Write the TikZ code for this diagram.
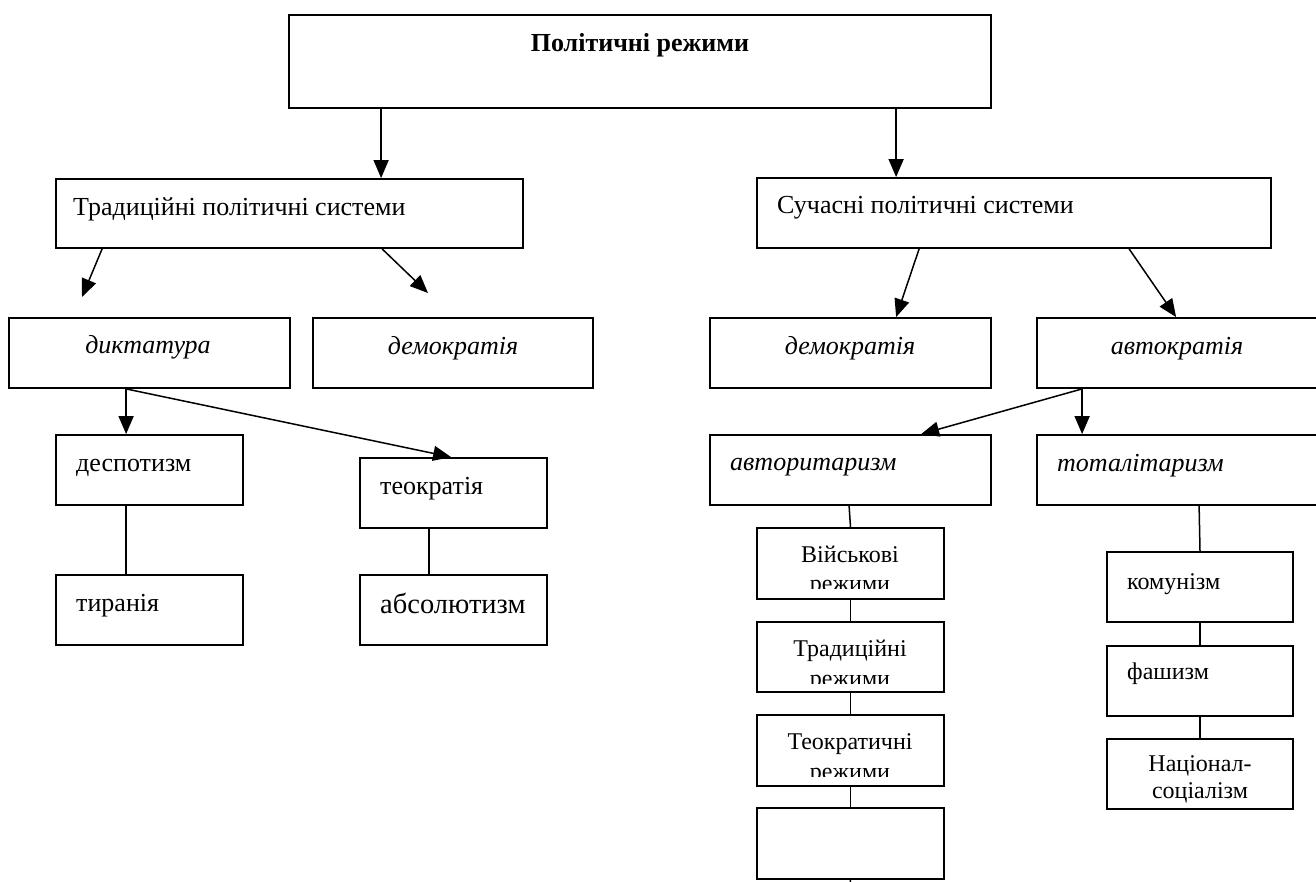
\documentclass[tikz,border=0pt]{standalone}
\usepackage{fontspec}
\setmainfont{Liberation Serif}
\usetikzlibrary{arrows.meta,fit}
\begin{document}
\begin{tikzpicture}[x=1pt,y=-1pt,
  box/.style={draw=black,line width=1.8pt,inner sep=0pt,fit={#1}},
  lnk/.style={line width=1.5pt},
  arr/.style={line width=1.5pt,-{Triangle[length=18pt,width=15pt]}},
  txt/.style={font=\fontsize{26}{30}\selectfont,inner sep=0pt},
  itx/.style={font=\fontsize{26}{30}\selectfont\itshape,inner sep=0pt},
  stx/.style={font=\fontsize{24}{28}\selectfont,inner sep=0pt}]
\useasboundingbox[fill=white] (0,0) rectangle (1316,881);

% boxes
\node[box={(289,15) (991,108)}] (top) {};
\node[box={(56,179) (523,248)}] (trad) {};
\node[box={(757,178) (1271,248)}] (modern) {};
\node[box={(9,318) (290,388)}] (dikt) {};
\node[box={(313,318) (593,388)}] (demL) {};
\node[box={(710,318) (991,388)}] (demR) {};
\node[box={(1037,318) (1318,388)}] (avtok) {};
\node[box={(56,435) (243,505)}] (desp) {};
\node[box={(56,575) (243,645)}] (tyr) {};
\node[box={(360,458) (547,528)}] (teok) {};
\node[box={(360,575) (547,645)}] (abs) {};
\node[box={(710,435) (991,505)}] (avtor) {};
\node[box={(1037,435) (1318,505)}] (total) {};
\node[box={(757,528) (944,599)}] (mil) {};
\node[box={(757,622) (944,692)}] (tradr) {};
\node[box={(757,715) (944,786)}] (teor) {};
\node[box={(757,808) (944,879)}] (empty) {};
\node[box={(1107,552) (1293,622)}] (komm) {};
\node[box={(1107,646) (1293,716)}] (fash) {};
\node[box={(1107,739) (1293,809)}] (nats) {};
\coordinate (bottomend) at (850,884);

% texts
\node[txt,font=\fontsize{26}{30}\selectfont\bfseries,anchor=base] (ttop) at (640,51) {Політичні режими};
\node[txt,anchor=base west] (ttrad) at (73,215) {Традиційні політичні системи};
\node[txt,anchor=base west] (tmod) at (777,213) {Сучасні політичні системи};
\node[itx,anchor=base] (tdikt) at (148,353) {диктатура};
\node[itx,anchor=base] (tdemL) at (453,354) {демократія};
\node[itx,anchor=base] (tdemR) at (850,354) {демократія};
\node[itx,anchor=base] (tavtok) at (1177,354) {автократія};
\node[itx,anchor=base west] (tavtor) at (730,470) {авторитаризм};
\node[itx,anchor=base west] (ttotal) at (1057,471) {тоталітаризм};
\node[txt,anchor=base west] (tdesp) at (76,471) {деспотизм};
\node[txt,anchor=base west] (tteok) at (380,494) {теократія};
\node[txt,anchor=base west] (ttyr) at (76,611) {тиранія};
\node[txt,font=\fontsize{28.5}{32}\selectfont,anchor=base west] (tabs) at (380,613) {абсолютизм};
\node[stx,anchor=base west] (tkomm) at (1127,589) {комунізм};
\node[stx,anchor=base west] (tfash) at (1127,679) {фашизм};
\node[stx,anchor=base] (tnats1) at (1200,771) {Націонал-};
\node[stx,anchor=base] (tnats2) at (1200,798) {соціалізм};

\node[stx,anchor=base] (tmil1) at (850,562) {Військові};
\node[stx,anchor=base] (ttradr1) at (850,656) {Традиційні};
\node[stx,anchor=base] (tteor1) at (850,749) {Теократичні};
\begin{scope}
  \clip (757,563) rectangle (944,588);
  \node[stx,anchor=base] (tmil2) at (850,591) {режими};
\end{scope}
\begin{scope}
  \clip (757,657) rectangle (944,683);
  \node[stx,anchor=base] (ttradr2) at (850,686) {режими};
\end{scope}
\begin{scope}
  \clip (757,750) rectangle (944,776);
  \node[stx,anchor=base] (tteor2) at (850,779) {режими};
\end{scope}

% connectors
\draw[arr] ([xshift=93pt]top.south west) -- ([xshift=326pt]trad.north west);
\draw[arr] ([xshift=608pt]top.south west) -- ([xshift=140pt]modern.north west);
\draw[arr] ([xshift=47pt]trad.south west) -- (82,297);
\draw[arr] ([xshift=327pt]trad.south west) -- (428,293);
\draw[arr] ([xshift=163pt]modern.south west) -- ([xshift=187pt]demR.north west);
\draw[arr] ([xshift=373pt]modern.south west) -- ([xshift=140pt]avtok.north west);
\draw[arr] ([xshift=118pt]dikt.south west) -- ([xshift=71pt]desp.north west);
\draw[arr] ([xshift=118pt]dikt.south west) -- ([xshift=92pt]teok.north west);
\draw[arr] ([xshift=46pt]avtok.south west) -- ([xshift=46pt]total.north west);
\draw[arr] ([xshift=46pt]avtok.south west) -- ([xshift=212pt]avtor.north west);
\draw[lnk] ([xshift=71pt]desp.south west) -- ([xshift=71pt]tyr.north west);
\draw[lnk] ([xshift=70pt]teok.south west) -- ([xshift=70pt]abs.north west);
\draw[lnk] ([xshift=140pt]avtor.south west) -- (mil.north);
\draw[lnk] (mil.south) -- (tradr.north);
\draw[lnk] (tradr.south) -- (teor.north);
\draw[lnk] (teor.south) -- (empty.north);
\draw[lnk] (empty.south) -- (bottomend);
\draw[lnk] ([xshift=163pt]total.south west) -- (komm.north);
\draw[lnk] (komm.south) -- (fash.north);
\draw[lnk] (fash.south) -- (nats.north);
\end{tikzpicture}
\end{document}
